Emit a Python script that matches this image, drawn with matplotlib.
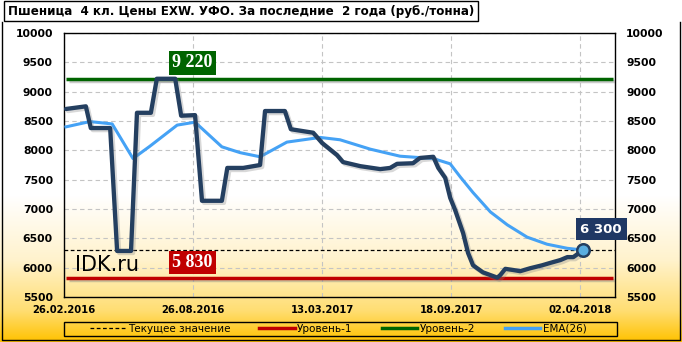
import numpy as np
import matplotlib.pyplot as plt
import matplotlib.patheffects as pe
from matplotlib.lines import Line2D
from matplotlib.patches import Rectangle

W, H = 682, 342

TITLE = "Пшеница  4 кл. Цены EXW. УФО. За последние  2 года (руб./тонна)"
TICK_POS = [0, 26, 52, 78, 104]
TICK_LABELS = ["26.02.2016", "26.08.2016", "13.03.2017", "18.09.2017", "02.04.2018"]
Y_TICKS = [5500, 6000, 6500, 7000, 7500, 8000, 8500, 9000, 9500, 10000]

# price, week index -> rub/t
PRICE_X = [0.4, 4.4, 5.4, 9.3, 10.7, 13.5, 14.7, 17.5, 18.7, 22.4, 23.6, 26.4,
           27.8, 31.8, 32.9, 36.1, 39.5, 40.5, 44.5, 45.7, 50.2, 52.0, 55.0,
           56.2, 59.7, 63.7, 65.7, 67.1, 70.3, 71.7, 74.4, 75.4, 76.8, 77.8,
           78.8, 80.4, 81.4, 82.4, 84.4, 87.3, 87.9, 88.9, 90.5, 91.9, 93.9,
           96.3, 97.9, 100.0, 101.4, 102.6, 104.6]
PRICE_Y = [8705, 8750, 8380, 8380, 6285, 6285, 8640, 8640, 9220, 9220, 8590, 8600,
           7140, 7140, 7700, 7700, 7750, 8670, 8670, 8360, 8300, 8125, 7920,
           7800, 7730, 7680, 7700, 7770, 7780, 7870, 7890, 7700, 7530, 7190,
           6980, 6590, 6250, 6040, 5920, 5830, 5875, 5980, 5960, 5940, 5990,
           6040, 6080, 6130, 6180, 6180, 6300]

EMA_X = [0.4, 5.2, 9.7, 13.9, 17.3, 22.8, 26.4, 31.8, 35.5, 39.5, 44.9, 51.6,
         55.6, 61.7, 67.7, 74.4, 77.8, 79.8, 82.4, 85.9, 89.3, 93.3, 97.3,
         101.4, 104.6]
EMA_Y = [8400, 8490, 8450, 7860, 8070, 8430, 8480, 8060, 7960, 7890, 8140, 8220,
         8180, 8020, 7900, 7860, 7770, 7550, 7280, 6950, 6730, 6520, 6400,
         6330, 6300]

LEVEL_1 = 5830
LEVEL_2 = 9220
CURRENT = 6300

DARK = "#243F60"
EMA_C = "#45A2F5"
GREEN = "#006400"
RED = "#C00000"


def fmt(v):
    return f"{v:,}".replace(",", " ")


fig = plt.figure(figsize=(W / 100, H / 100), dpi=100)

# background gradient (white -> gold at the bottom)
bg = fig.add_axes([0, 0, 1, 1], zorder=-10)
rows = np.arange(H)
stops = [0, 195, 260, 310, 341]
cols = np.array([[1, 1, 1], [1, 1, 1], [1, 0.95, 0.80], [1, 0.87, 0.45], [1, 0.76, 0.0]])
grad = np.stack([np.interp(rows, stops, cols[:, i]) for i in range(3)], axis=-1)
bg.imshow(grad[:, None, :], aspect="auto", extent=[0, W, H, 0])
bg.set_xlim(0, W)
bg.set_ylim(H, 0)
bg.axis("off")
bg.plot([1.5, 1.5, 680, 680], [22, 340, 340, 22], color="black", lw=1)
# legend frame
bg.add_patch(Rectangle((63.5, 322), 553, 14, fill=False, ec="black", lw=1))

ax = fig.add_axes([64 / W, 1 - 297 / H, (615 - 64) / W, (297 - 33) / H])
ax.set_facecolor("none")
ax.set_xlim(0, 111)
ax.set_ylim(5500, 10000)

ax.set_yticks(Y_TICKS)
ax.set_xticks(TICK_POS)
ax.set_xticklabels(TICK_LABELS)
ax.tick_params(axis="y", length=0, pad=8, labelsize=7.8, labelright=True)
ax.tick_params(axis="x", length=0, pad=6, labelsize=7.2)
for lab in ax.get_xticklabels() + ax.get_yticklabels():
    lab.set_fontweight("bold")
for t in ax.yaxis.get_major_ticks():
    t.label2.set_fontweight("bold")

ax.grid(True, color="#C4C4C4", ls=(0, (4, 3)), lw=0.8)
ax.set_axisbelow(True)
for s in ax.spines.values():
    s.set_color("black")
    s.set_linewidth(1)

shadow = [pe.SimpleLineShadow(offset=(1.5, -1.5), shadow_color="gray", alpha=0.4), pe.Normal()]

ax.axhline(CURRENT, color="black", ls=(0, (3, 2)), lw=0.9, zorder=3)
ax.hlines(LEVEL_2, 0.5, 110.5, color=GREEN, lw=2.5, zorder=3, path_effects=shadow)
ax.hlines(LEVEL_1, 0.5, 110.5, color=RED, lw=2.5, zorder=3, path_effects=shadow)

ax.plot(EMA_X, EMA_Y, color=EMA_C, lw=2.2, zorder=4, solid_joinstyle="round")
ax.plot(PRICE_X, PRICE_Y, color=DARK, lw=3.1, zorder=5, solid_joinstyle="round",
        solid_capstyle="round", path_effects=[
            pe.SimpleLineShadow(offset=(1.5, -1.5), shadow_color="gray", alpha=0.3), pe.Normal()])
ax.plot(PRICE_X[-1], PRICE_Y[-1], "o", ms=9, mfc="#5AAEE0", mec=DARK, mew=1.8, zorder=6)

lab_kw = dict(textcoords="offset pixels", ha="center", va="center", color="white",
              fontweight="bold", zorder=7)
ax.annotate(fmt(LEVEL_2), (25.8, LEVEL_2), xytext=(0, 16), fontsize=13,
            family="Liberation Serif",
            bbox=dict(boxstyle="square,pad=0.18", fc=GREEN, ec="none"), **lab_kw)
ax.annotate(fmt(LEVEL_1), (25.8, LEVEL_1), xytext=(0, 15), fontsize=13,
            family="Liberation Serif",
            bbox=dict(boxstyle="square,pad=0.18", fc=RED, ec="none"), **lab_kw)
ax.annotate(fmt(CURRENT), (PRICE_X[-1], CURRENT), xytext=(18, 21), fontsize=9.5,
            bbox=dict(boxstyle="square,pad=0.35", fc="#1F3864", ec="none"), **lab_kw)

ax.text(2.2, 6050, "IDK.ru", fontsize=15, color="black", va="center", ha="left", zorder=6)

fig.text(8 / W, 1 - 11 / H, TITLE, fontsize=8.6, fontweight="bold", va="center", ha="left",
         bbox=dict(boxstyle="square,pad=0.3", fc="white", ec="black", lw=1))

handles = [
    Line2D([], [], color="black", ls=(0, (3, 2)), lw=0.9),
    Line2D([], [], color=RED, lw=2.5),
    Line2D([], [], color=GREEN, lw=2.5),
    Line2D([], [], color=EMA_C, lw=2.5),
]
labels = ["Текущее значение", "Уровень-1", "Уровень-2", "EMA(26)"]
leg = fig.legend(handles, labels, loc="lower left", ncol=4, mode="expand",
                 bbox_to_anchor=(88 / W, 6.5 / H, 500 / W, 14 / H), fontsize=7.5,
                 frameon=False, borderpad=0.15, handlelength=3.4,
                 handletextpad=0.25, borderaxespad=0)

fig.savefig("out.png", dpi=100)
